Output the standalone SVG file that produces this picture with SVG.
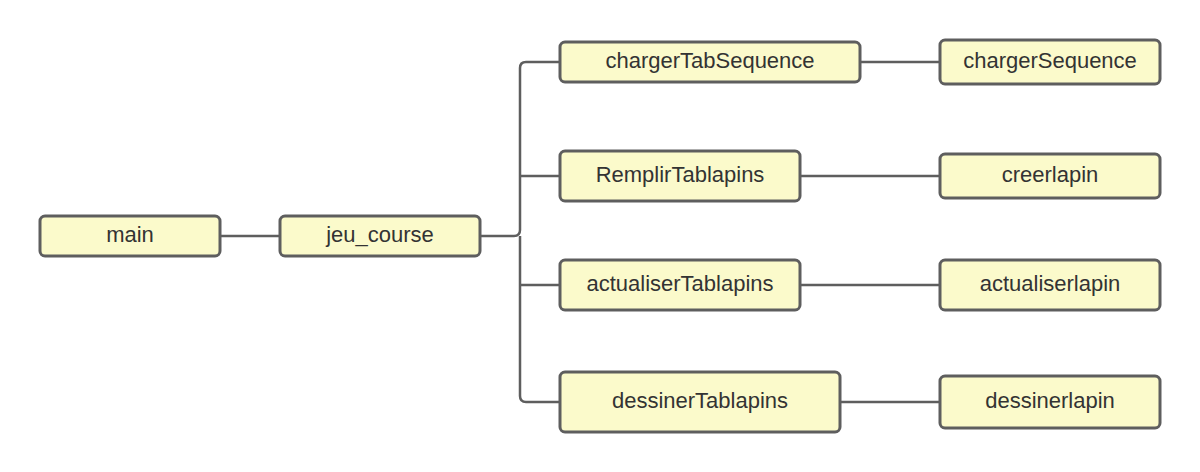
<svg xmlns="http://www.w3.org/2000/svg" width="1200" height="472" viewBox="0 0 1200 472">
<style>
.n rect{fill:#fbfacb;stroke:#5e5e5e;stroke-width:3}
.n text{font-family:"Liberation Sans",Arial,sans-serif;font-size:22px;fill:#333;text-anchor:middle;dominant-baseline:central}
.c path{fill:none;stroke:#5e5e5e;stroke-width:2.5}
</style>
<rect width="1200" height="472" fill="#fff"/>
<g class="c" id="connectors">
<path d="M220 236H280"/>
<path d="M480 236H514Q520 236 520 230V68Q520 62 526 62H560"/>
<path d="M520 236V396Q520 402 526 402H560"/>
<path d="M520 176H560"/>
<path d="M520 285H560"/>
<path d="M860 62H940"/>
<path d="M800 176H940"/>
<path d="M800 285H940"/>
<path d="M840 402H940"/>
</g>
<g class="n" id="main"><rect x="40" y="216" width="180" height="40" rx="5"/><text x="130" y="234">main</text></g>
<g class="n" id="jeu_course"><rect x="280" y="216" width="200" height="40" rx="5"/><text x="380" y="234">jeu_course</text></g>
<g class="n" id="chargerTabSequence"><rect x="560" y="42" width="300" height="40" rx="5"/><text x="710" y="60">chargerTabSequence</text></g>
<g class="n" id="RemplirTablapins"><rect x="560" y="151" width="240" height="50" rx="5"/><text x="680" y="174">RemplirTablapins</text></g>
<g class="n" id="actualiserTablapins"><rect x="560" y="260" width="240" height="50" rx="5"/><text x="680" y="283">actualiserTablapins</text></g>
<g class="n" id="dessinerTablapins"><rect x="560" y="372" width="280" height="60" rx="5"/><text x="700" y="400">dessinerTablapins</text></g>
<g class="n" id="chargerSequence"><rect x="940" y="40" width="220" height="44" rx="5"/><text x="1050" y="60">chargerSequence</text></g>
<g class="n" id="creerlapin"><rect x="940" y="154" width="220" height="44" rx="5"/><text x="1050" y="174">creerlapin</text></g>
<g class="n" id="actualiserlapin"><rect x="940" y="260" width="220" height="50" rx="5"/><text x="1050" y="283">actualiserlapin</text></g>
<g class="n" id="dessinerlapin"><rect x="940" y="376" width="220" height="52" rx="5"/><text x="1050" y="400">dessinerlapin</text></g>
</svg>
